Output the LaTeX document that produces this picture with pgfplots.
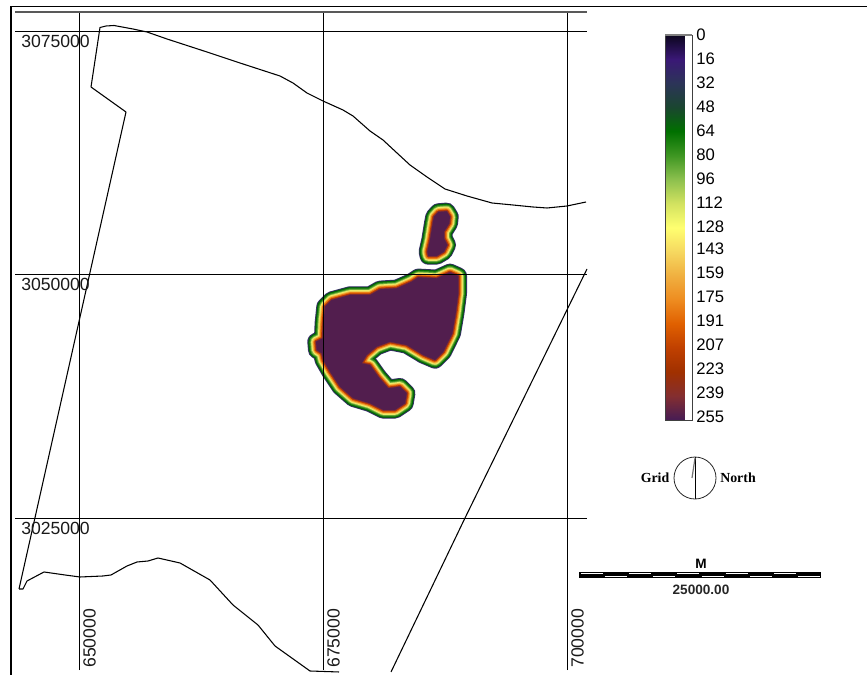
\documentclass[border=0pt]{standalone}
\usepackage{fontspec}
\setmainfont{Liberation Sans}
\newfontfamily\mapserif{Liberation Serif}
\usepackage{pgfplots}
\usepackage{pgfplotstable}
\pgfplotsset{compat=1.18}

% map outlines, metres
\pgfplotstableread{
x y
643853 3017710
654816 3066684
651230 3069251
652152 3075360
652767 3075514
653586 3075565
655533 3075206
656967 3074898
659017 3074179
663115 3072844
666496 3071715
670595 3070380
671926 3069661
673361 3068635
675000 3067813
677049 3066889
678074 3066273
679816 3064733
681148 3063809
682582 3062474
683914 3061242
685656 3060010
687500 3058778
689754 3058060
692316 3057341
694467 3057136
696517 3056930
697951 3056828
698976 3056930
700000 3057033
701947 3057444
}\northline
\pgfplotstableread{
x y
702049 3050565
689549 3025000
681967 3009189
}\eastline
\pgfplotstableread{
x y
643853 3017710
644263 3017710
644672 3018532
646414 3019456
648566 3019148
650103 3018942
652459 3019045
653279 3019148
654918 3020072
655943 3020482
657070 3020585
658095 3020893
660349 3020380
663422 3018634
665779 3016068
668340 3014014
670082 3011858
673668 3009291
676640 3009189
}\southline

% edge of the 255 area
\pgfplotstableread{
x y
688863 3049846
688863 3048070
688597 3046017
688248 3043963
687326 3042074
686476 3041222
685277 3041735
683576 3042762
681865 3043101
680502 3042587
679478 3041735
678965 3040883
679816 3040708
680667 3039507
681691 3038316
682890 3038480
683576 3037803
683402 3036776
682377 3036088
681179 3036088
679816 3036776
678105 3037289
676742 3038480
675718 3040020
675031 3041222
674867 3041910
674355 3042248
674283 3043101
674970 3043450
675031 3044990
675205 3046694
675892 3047382
677767 3047895
679816 3047895
680840 3048481
682551 3048583
684088 3049261
684765 3049713
686650 3049610
688013 3050226
688863 3049846
}\mainlobe
\pgfplotstableread{
x y
686814 3056417
687675 3056489
688013 3055934
687941 3055257
687398 3054394
687398 3053716
687736 3053029
687398 3052341
686650 3051899
685789 3051899
685687 3052341
685963 3053542
686240 3055257
686373 3055934
686814 3056417
}\upperlobe

\definecolor{peak}{RGB}{82,30,78}
\definecolor{rimA}{RGB}{62,50,112}
\definecolor{rimB}{RGB}{30,60,60}
\definecolor{rimC}{RGB}{0,105,0}
\definecolor{rimD}{RGB}{50,140,30}
\definecolor{rimE}{RGB}{130,185,70}
\definecolor{rimF}{RGB}{235,235,105}
\definecolor{rimG}{RGB}{245,190,70}
\definecolor{rimH}{RGB}{235,125,20}
\definecolor{rimI}{RGB}{190,60,0}
\definecolor{rimJ}{RGB}{130,45,50}

\pgfplotsset{
  colormap={geo}{
    rgb255=(12,6,30) rgb255=(58,24,118) rgb255=(44,52,88) rgb255=(26,70,48)
    rgb255=(0,112,0) rgb255=(62,150,34) rgb255=(140,192,78) rgb255=(210,226,96)
    rgb255=(255,255,112) rgb255=(246,216,96) rgb255=(240,176,64) rgb255=(238,140,32)
    rgb255=(224,96,0) rgb255=(192,64,0) rgb255=(160,48,0) rgb255=(132,46,48)
    rgb255=(70,28,84)
  },
  rim/.style 2 args={no marks, draw=#1, line width=#2, line join=round, line cap=round},
}

\begin{document}
\begin{tikzpicture}
\path[use as bounding box] (0,0) rectangle (650.25pt,506.25pt);

\begin{axis}[
    at={(11.25pt,3.75pt)}, anchor=south west,
    scale only axis, width=429pt, height=493.5pt,
    xmin=643443, xmax=702049,
    ymin=3009393, ymax=3076951,
    clip=false,
    axis on top,
    axis line style={draw=none},
    xtick={650000,675000,700000},
    ytick={3025000,3050000,3075000},
    scaled ticks=false,
    grid=major,
    grid style={black, line width=0.7pt},
    major tick length=0pt,
    /pgf/number format/fixed,
    /pgf/number format/assume math mode=true,
    /pgf/number format/1000 sep={},
    tick label style={font=\fontsize{13.2}{15}\selectfont, inner sep=0pt, text=black!90},
    yticklabel style={anchor=north west, xshift=4.5pt, yshift=-2.6pt},
    xticklabel style={rotate=90, anchor=north west, xshift=1.5pt, yshift=-3pt},
    colormap name=geo,
    colorbar,
    point meta min=0, point meta max=257,
    colorbar style={
      at={(parent axis.north west)}, anchor=north west,
      xshift=479.4pt, yshift=-17.25pt,
      scale only axis, width=19.9pt, height=288.75pt,
      y dir=reverse,
      ytick={0,16,32,48,64,80,96,112,128,143,159,175,191,207,223,239,255},
      yticklabel pos=right,
      major tick length=0pt,
      axis line style={black!75, line width=0.6pt},
      /pgf/number format/fixed,
      /pgf/number format/assume math mode=true,
      yticklabel style={font=\fontsize{12.5}{14}\selectfont, inner sep=0pt, xshift=3pt, text=black},
    },
]
\addplot[no marks, black, line width=0.8pt, line join=round] table {\northline};
\addplot[no marks, black, line width=0.8pt] table {\eastline};
\addplot[no marks, black, line width=0.8pt, line join=round] table {\southline};

\addplot[rim={rimA}{13.05pt}] table {\upperlobe};
\addplot[rim={rimA}{13.05pt}] table {\mainlobe};
\addplot[rim={rimB}{12.15pt}] table {\upperlobe};
\addplot[rim={rimB}{12.15pt}] table {\mainlobe};
\addplot[rim={rimC}{11.4pt}] table {\upperlobe};
\addplot[rim={rimC}{11.4pt}] table {\mainlobe};
\addplot[rim={rimD}{9.9pt}] table {\upperlobe};
\addplot[rim={rimD}{9.9pt}] table {\mainlobe};
\addplot[rim={rimE}{8.4pt}] table {\upperlobe};
\addplot[rim={rimE}{8.4pt}] table {\mainlobe};
\addplot[rim={rimF}{7.2pt}] table {\upperlobe};
\addplot[rim={rimF}{7.2pt}] table {\mainlobe};
\addplot[rim={rimG}{5.55pt}] table {\upperlobe};
\addplot[rim={rimG}{5.55pt}] table {\mainlobe};
\addplot[rim={rimH}{4.2pt}] table {\upperlobe};
\addplot[rim={rimH}{4.2pt}] table {\mainlobe};
\addplot[rim={rimI}{2.55pt}] table {\upperlobe};
\addplot[rim={rimI}{2.55pt}] table {\mainlobe};
\addplot[rim={rimJ}{1.2pt}] table {\upperlobe};
\addplot[rim={rimJ}{1.2pt}] table {\mainlobe};
\addplot[draw=none, fill=peak] table {\upperlobe};
\addplot[draw=none, fill=peak] table {\mainlobe};
\end{axis}

% frame, north sign and scale bar, in picture pixels
\begin{axis}[
    at={(0pt,0pt)}, anchor=south west,
    scale only axis, width=650.25pt, height=506.25pt,
    xmin=0, xmax=867, ymin=0, ymax=675,
    y dir=reverse,
    hide axis,
    clip=false,
    unbounded coords=jump,
]
\addplot[no marks, black, line width=0.9pt] coordinates {(867,6.5) (11,6.5) (11,675)};
\addplot[no marks, black!65, line width=0.9pt] coordinates {(15,12) (587,12)};
\addplot[no marks, black!50, line width=1.5pt] coordinates {(665,35) (692,35)};

\addplot[only marks, mark=o, mark size=15.75pt, mark options={black!85, line width=0.6pt}] coordinates {(695,478)};
\addplot[no marks, black, line width=0.6pt] coordinates {(695,457) (695,499)};
\addplot[no marks, black!55, line width=0.9pt] coordinates {(695,458) (692,478)};
\node[font=\mapserif\bfseries\fontsize{10.4}{12}\selectfont] at (axis cs:655,478) {Grid};
\node[font=\mapserif\bfseries\fontsize{10.4}{12}\selectfont] at (axis cs:738,478) {North};

\addplot[no marks, black, line width=3.9pt] coordinates {(579,575) (821,575)};
\addplot[no marks, white, line width=0.7pt] coordinates {
  (580.5,573.6) (602.5,573.6) (602.5,nan)
  (604.7,576.4) (626.7,576.4) (626.7,nan)
  (628.9,573.6) (650.9,573.6) (650.9,nan)
  (653,576.4) (675,576.4) (675,nan)
  (677,573.6) (699,573.6) (699,nan)
  (701.5,576.4) (723.5,576.4) (723.5,nan)
  (725.7,573.6) (747.7,573.6) (747.7,nan)
  (750,576.4) (772,576.4) (772,nan)
  (774,573.6) (796,573.6) (796,nan)
  (798,576.4) (820,576.4)
};
\node[font=\bfseries\fontsize{10.2}{12}\selectfont] at (axis cs:701,564) {M};
\node[font=\bfseries\fontsize{10.2}{12}\selectfont, text=black!85] at (axis cs:701,590) {25000.00};
\end{axis}
\end{tikzpicture}
\end{document}
